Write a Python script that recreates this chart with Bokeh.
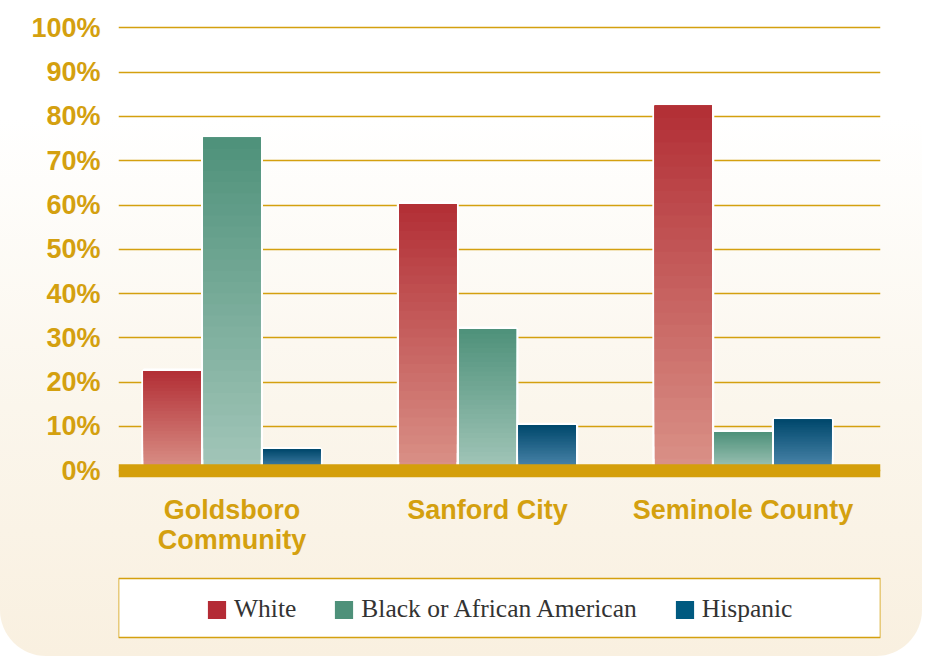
import numpy as np
from bokeh.plotting import figure
from bokeh.models import Range1d, Span, Legend, LegendItem, BoxAnnotation, ColumnDataSource
from bokeh.core.properties import value
from bokeh.embed import file_html
from bokeh.resources import INLINE

# ---------------- data ----------------
categories = ["Goldsboro\nCommunity", "Sanford City", "Seminole County"]
series = ["White", "Black or African American", "Hispanic"]
white = [22.5, 60.2, 82.4]
black = [75.2, 32.0, 8.7]
hispanic = [4.8, 10.3, 11.5]
y_ticks = [0, 10, 20, 30, 40, 50, 60, 70, 80, 90, 100]
y_tick_labels = ["0%", "10%", "20%", "30%", "40%", "50%", "60%", "70%", "80%", "90%", "100%"]

# ---------------- style ----------------
GOLD = "#D4A00F"
BAND = "#D49F0B"
legend_colors = ["#B42B35", "#4E917A", "#005A80"]
top_colors = ["#B22E35", "#4E917A", "#00486C"]
bottom_colors = ["#DA9288", "#A3C6B9", "#5089AE"]
values = [white, black, hispanic]

BAR_W = 0.2231
OFFSET = 0.2337
N_SLICES = 30


def hex_to_rgb(h):
    h = h.lstrip("#")
    return np.array([int(h[i:i + 2], 16) for i in (0, 2, 4)], dtype=float)


def mix(c1, c2, f):
    a, b = hex_to_rgb(c1), hex_to_rgb(c2)
    c = a + (b - a) * f
    return "#%02x%02x%02x" % tuple(int(round(v)) for v in c)


p = figure(width=922, height=656,
           x_range=Range1d(-0.4442, 2.538), y_range=Range1d(-41.92, 102.1),
           output_backend="svg", toolbar_location=None, x_axis_location=None,
           min_border_left=118, min_border_right=42,
           min_border_top=18, min_border_bottom=0)
p.outline_line_color = None
p.background_fill_color = None
p.border_fill_color = None
p.styles = {
    "background": "linear-gradient(180deg, #FFFFFF 0%, #FFFFFF 18%, #FBF6EC 62%, #F9F0E0 100%)",
    "border-radius": "0 0 46px 46px",
}

# grid & axis
p.xgrid.grid_line_color = None
p.ygrid.grid_line_color = GOLD
p.ygrid.grid_line_width = 1.6

p.yaxis.ticker = y_ticks
p.yaxis.major_label_overrides = {t: l for t, l in zip(y_ticks, y_tick_labels)}
p.yaxis.axis_line_color = None
p.yaxis.major_tick_line_color = None
p.yaxis.minor_tick_line_color = None
p.yaxis.major_tick_out = 0
p.yaxis.major_label_standoff = 18
p.yaxis.major_label_text_font = "Liberation Sans"
p.yaxis.major_label_text_font_style = "bold"
p.yaxis.major_label_text_font_size = "27px"
p.yaxis.major_label_text_color = GOLD

# bars: white-outlined base bars (used for the legend), then gradient slices
base_renderers = []
for k, vals in enumerate(values):
    xs = [i + (k - 1) * OFFSET for i in range(len(categories))]
    r = p.vbar(x=xs, top=vals, bottom=0, width=BAR_W,
               fill_color=legend_colors[k], line_color="white", line_width=5)
    base_renderers.append(r)

for k, vals in enumerate(values):
    sx, sb, st, sc = [], [], [], []
    for i, v in enumerate(vals):
        for j in range(N_SLICES):
            sx.append(i + (k - 1) * OFFSET)
            sb.append(v * j / N_SLICES)
            st.append(v)
            sc.append(mix(bottom_colors[k], top_colors[k], (j + 0.5) / N_SLICES))
    src = ColumnDataSource(dict(x=sx, bottom=sb, top=st, color=sc))
    p.vbar(x="x", bottom="bottom", top="top", width=BAR_W,
           fill_color="color", line_color=None, source=src)

# baseline band
p.add_layout(Span(location=0, dimension="width", line_color=BAND, line_width=13, level="overlay"))

# category labels under the baseline
p.text(x=list(range(len(categories))), y=[0] * len(categories), text=categories,
       text_align="center", text_baseline="top", y_offset=24,
       text_font=value("Liberation Sans"), text_font_style="bold",
       text_font_size="27px", text_color=GOLD, text_line_height=1.0)

# legend frame (spans the plot width)
p.add_layout(BoxAnnotation(top=78, bottom=19, top_units="screen", bottom_units="screen",
                           fill_color="white", fill_alpha=1,
                           line_color=GOLD, line_alpha=1, line_width=1.6, level="annotation"))

legend = Legend(
    items=[LegendItem(label=s, renderers=[r]) for s, r in zip(series, base_renderers)],
    orientation="horizontal", location=(84, 32),
    glyph_width=29, glyph_height=29, label_standoff=3, spacing=33,
    padding=0, margin=0,
    label_text_font="Liberation Serif", label_text_font_size="25.5px",
    label_text_color="#333333",
    border_line_color=None, background_fill_alpha=0,
)
p.add_layout(legend)

open("out.html", "w").write(file_html(p, INLINE))
